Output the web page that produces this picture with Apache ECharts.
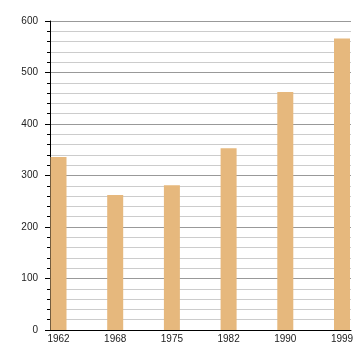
<!DOCTYPE html>
<html>
<head>
<meta charset="utf-8">
<script src="https://cdn.jsdelivr.net/npm/echarts@6/dist/echarts.min.js"></script>
<style>html,body{margin:0;padding:0;background:#fff;}#c{width:360px;height:360px;}</style>
</head>
<body>
<div id="c"></div>
<script>
const years = ['1962', '1968', '1975', '1982', '1990', '1999'];
const values = [336, 262, 281, 353, 462, 566];
const yMin = 0, yMax = 600, yStep = 100;

const chart = echarts.init(document.getElementById('c'));
const font = 'Liberation Sans, Arial, sans-serif';
chart.setOption({
  animation: false,
  grid: [
    {left: 50, right: 9, top: 21, bottom: 30},
    {left: 58.5, right: 18, top: 21, bottom: 30}
  ],
  xAxis: [
    {gridIndex: 0, type: 'value', min: 0, max: 1,
     axisLine: {show: true, lineStyle: {color: '#000', width: 1}},
     axisTick: {show: false}, axisLabel: {show: false}, splitLine: {show: false}},
    {gridIndex: 1, type: 'category', data: years, boundaryGap: false,
     axisLine: {show: false}, axisTick: {show: false},
     axisLabel: {color: '#222', fontSize: 10, fontFamily: font, margin: 4, interval: 0},
     splitLine: {show: false}}
  ],
  yAxis: [
    {gridIndex: 0, type: 'value', min: yMin, max: yMax, interval: yStep,
     axisLine: {show: true, lineStyle: {color: '#000', width: 1}},
     axisTick: {show: true, length: 5, lineStyle: {color: '#000'}},
     minorTick: {show: true, splitNumber: 5, length: 3, lineStyle: {color: '#000'}},
     axisLabel: {color: '#222', fontSize: 10, fontFamily: font, margin: 12},
     splitLine: {show: true, lineStyle: {color: '#999', width: 1}},
     minorSplitLine: {show: true, lineStyle: {color: '#ccc', width: 1}}},
    {gridIndex: 1, type: 'value', min: yMin, max: yMax, show: false, splitLine: {show: false}}
  ],
  series: [{
    type: 'bar', xAxisIndex: 1, yAxisIndex: 1, data: values, barWidth: 16,
    itemStyle: {color: '#E6B87D'}, z: 5
  }]
});
</script>
</body>
</html>
